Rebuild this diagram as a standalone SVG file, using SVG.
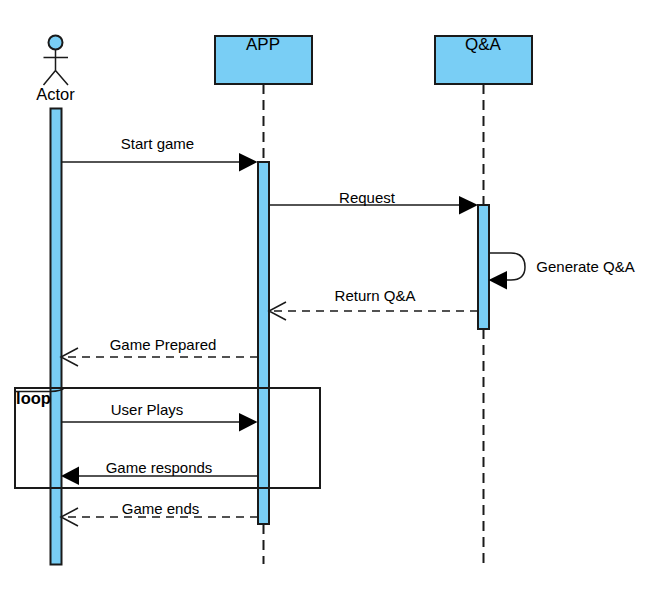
<svg xmlns="http://www.w3.org/2000/svg" width="671" height="594" viewBox="0 0 671 594">
<style>
text{font-family:"Liberation Sans",Arial,sans-serif;font-size:15px;fill:#000;text-anchor:middle}
.n{fill:#79cef5;stroke:#1a1a1a;stroke-width:2}
.l{fill:none;stroke:#1a1a1a;stroke-width:1.500}
.c{fill:none;stroke:#1a1a1a;stroke-width:1.500}
.d{stroke-dasharray:8 6}
.ld{fill:none;stroke:#1a1a1a;stroke-width:2;stroke-dasharray:10 6}
.h{fill:#000}
.o{fill:none;stroke:#1a1a1a;stroke-width:1.500}
</style>
<rect width="671" height="594" fill="#fff"/>
<g id="actor">
<circle class="n" cx="55.500" cy="42.500" r="7"/>
<path class="l" d="M55.500 49.500V70.500M43.500 57.500H68M55.500 70.500L43.500 85M55.500 70.500L68 85"/>
<text x="55.500" y="100" style="font-size:16.500px">Actor</text>
</g>
<g id="actor-bar"><rect class="n" x="50.500" y="108.500" width="11" height="456"/></g>
<g id="app">
<path class="ld" d="M263.500 84V162M263.500 524V564"/>
<rect class="n" x="215" y="36" width="97" height="48"/>
<text x="263" y="49.500" style="font-size:17px">APP</text>
<rect class="n" x="258" y="162" width="11" height="362"/>
</g>
<g id="qa">
<path class="ld" d="M483.500 84V205M483.500 329V564"/>
<rect class="n" x="435" y="36" width="97" height="48"/>
<text x="483" y="49.500" style="font-size:17px">Q&amp;A</text>
<rect class="n" x="478" y="205" width="11" height="124"/>
</g>
<g id="loop">
<rect x="15" y="388" width="305" height="100" fill="none" stroke="#1a1a1a" stroke-width="2"/>
<path d="M15 391.500H50Q62 391 64 388" fill="none" stroke="#1a1a1a" stroke-width="1.500"/>
<text x="33.500" y="404" style="font-weight:bold;font-size:16.500px">loop</text>
</g>
<g id="connectors">
<path class="c" d="M61 162H240"/><path class="h" d="M239 153L257.500 162L239 171.500Z"/>
<path class="c" d="M269 205H460"/><path class="h" d="M459 196L478 205L459 214.500Z"/>
<path class="c" d="M489 253H511Q525 253 525 267Q525 280 511 280H507"/><path class="h" d="M507 271L488.500 280L507 289.500Z"/>
<path class="c d" d="M478 311H270"/><path class="o" d="M286 302L269 311L286 320"/>
<path class="c d" d="M258 357H62"/><path class="o" d="M78 348L61 357L78 366"/>
<path class="c" d="M61 422H240"/><path class="h" d="M239 413L257.500 422L239 431.500Z"/>
<path class="c" d="M258 476H79"/><path class="h" d="M79 466.500L61 476L79 485Z"/>
<path class="c d" d="M258 517H62"/><path class="o" d="M78 508L61 517L78 526"/>
</g>
<g id="labels">
<text x="157.500" y="149">Start game</text>
<text x="367" y="203">Request</text>
<text x="585.500" y="272">Generate Q&amp;A</text>
<text x="375" y="301">Return Q&amp;A</text>
<text x="163" y="350">Game Prepared</text>
<text x="147" y="415">User Plays</text>
<text x="159" y="473">Game responds</text>
<text x="160.500" y="514">Game ends</text>
</g>
</svg>
